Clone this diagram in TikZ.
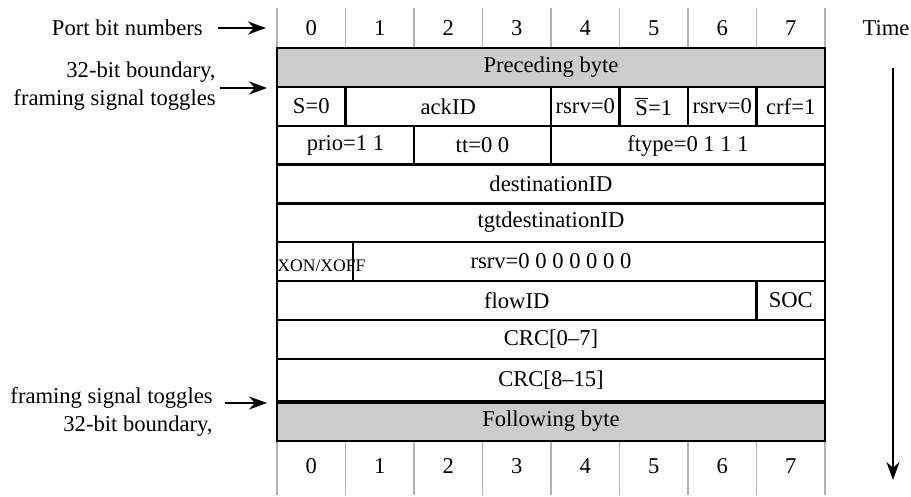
\documentclass[tikz,border=0pt]{standalone}
\usepackage{fontspec}
\setmainfont{Liberation Serif}
\usetikzlibrary{calc,positioning,arrows.meta}
\tikzset{cell/.style={rectangle, draw=black, line width=1.1pt, inner sep=0pt,
  outer sep=0pt, minimum height=19.5pt, anchor=north west}}
\tikzset{greycell/.style={cell, fill=black!20}}
\tikzset{cols/.style={minimum width=#1*34.25pt}}
\tikzset{bitnum/.style={inner sep=0pt}}
\tikzset{sidetext/.style={align=right, inner sep=0pt, anchor=east}}
\tikzset{gridline/.style={draw=black!30, line width=0.6pt}}

\begin{document}
\begin{tikzpicture}[x=0.5pt,y=-0.5pt,font=\fontsize{11.3}{14}\selectfont,>={Stealth[length=9pt,width=6.5pt]}]
  \useasboundingbox (0,0) rectangle (911,497);
  % bit numbers, top and bottom
  \foreach \i in {0,...,7} {
    \node[bitnum] (top\i) at (311.25+68.5*\i,28) {\i};
    \node[bitnum] (bot\i) at (311.25+68.5*\i,466) {\i};
  }
  \foreach \i in {0,...,8} {
    \draw[gridline] (277+68.5*\i,8) -- (277+68.5*\i,48);
    \draw[gridline] (277+68.5*\i,442) -- (277+68.5*\i,495);
  }
  % packet rows
  \node[greycell, cols=8] (pre) at (277,48) {Preceding byte};
  \node[cell, cols=1] (szero) at (277,87) {S=0};
  \node[cell, cols=3] (ack) at (345.5,87) {ackID};
  \node[cell, cols=1] (rsrva) at (551,87) {rsrv=0};
  \node[cell, cols=1] (sbar) at (619.5,87) {$\overline{\mbox{S}}$=1};
  \node[cell, cols=1] (rsrvb) at (688,87) {rsrv=0};
  \node[cell, cols=1] (crf) at (756.5,87) {crf=1};
  \node[cell, cols=2, line width=1.4pt] (prio) at (277,126) {prio=1 1};
  \node[cell, cols=2, line width=1.4pt] (tt) at (414,126) {tt=0 0};
  \node[cell, cols=4, line width=1.4pt] (ftype) at (551,126) {ftype=0 1 1 1};
  \node[cell, cols=8] (dest) at (277,164.5) {destinationID};
  \node[cell, cols=8] (tgt) at (277,203) {tgtdestinationID};
  \node[cell, cols=8] (rsrvc) at (277,242) {rsrv=0 0 0 0 0 0 0};
  \node[cell, minimum width=38pt] (xon) at (277,242) {};
  \node[inner sep=0pt, anchor=base west, font=\fontsize{8.8}{10}\selectfont] (xontext) at (277,272) {XON/XOFF};
  \node[cell, cols=7] (flow) at (277,281) {flowID};
  \node[cell, cols=1] (soc) at (756.5,281) {SOC};
  \node[cell, cols=8] (crca) at (277,320) {CRC[0--7]};
  \node[cell, cols=8, minimum height=21.5pt] (crcb) at (277,359) {CRC[8--15]};
  \node[greycell, cols=8] (fol) at (277,402) {Following byte};
  \draw[line width=2pt] (fol.north west) -- (fol.north east);
  % side labels
  \node[sidetext] (portlbl) at (203,28) {Port bit numbers};
  \coordinate (porttip) at (266,28);
  \draw[->, line width=1pt] ($(portlbl.east)+(15,0)$) -- (porttip);
  \node[sidetext] (toplbl) at (216,86) {32-bit boundary,\\framing signal toggles};
  \coordinate (toptip) at (267,88);
  \draw[->, line width=1pt] ($(toplbl.east |- toptip)+(4,0)$) -- (toptip);
  \node[sidetext] (botlbl) at (213,412) {framing signal toggles\\32-bit boundary,};
  \coordinate (bottip) at (267,403);
  \draw[->, line width=1pt] ($(botlbl.east |- bottip)+(12,0)$) -- (bottip);
  \node (timelbl) at (886,28) {Time};
  \coordinate (timetop) at (893,68);
  \coordinate (timebot) at (893,480);
  \draw[->, line width=1pt] (timetop) -- (timebot);
\end{tikzpicture}
\end{document}
